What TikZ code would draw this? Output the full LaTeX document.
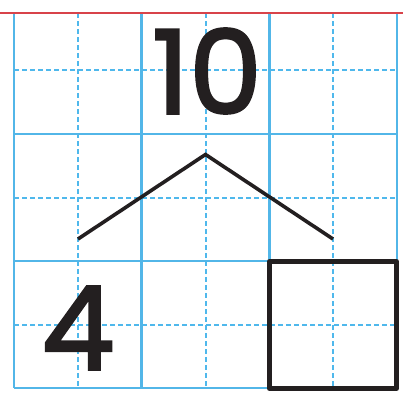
\documentclass[tikz,border=0pt]{standalone}
\usepackage{fontspec}
\setmainfont{Poppins}
\newfontfamily\digitfont[FakeBold=2.2]{Poppins}
\definecolor{gridblue}{HTML}{52B6E8}
\definecolor{dashblue}{HTML}{4FB8EC}
\definecolor{redline}{HTML}{D8434A}
\definecolor{ink}{HTML}{231F20}
\tikzset{
  solidgrid/.style={draw=gridblue, line width=2.8pt},
  dashgrid/.style={draw=dashblue, line width=1.1pt, dash pattern=on 5pt off 3pt},
  topline/.style={draw=redline, line width=2.2pt},
  answerbox/.style={draw=ink, line width=5pt, line join=round},
  branch/.style={draw=ink, line width=3.6pt, line join=miter},
  digit/.style={text=ink, inner sep=0pt, font=\digitfont\fontsize{116}{116}\selectfont}
}
\begin{document}
\begin{tikzpicture}[x=1pt, y=-1pt]
\useasboundingbox (0,0) rectangle (403,394);
% dashed guide lines
\foreach \x in {78,206,333} \draw[dashgrid] (\x,13) -- (\x,388);
\foreach \y in {70,198,325} \draw[dashgrid] (14,\y) -- (397,\y);
% solid grid lines
\foreach \x in {14,141.7,269.3,397} \draw[solidgrid] (\x,13) -- (\x,388);
\foreach \y in {134,261,388} \draw[solidgrid] (14,\y) -- (397,\y);
% red line at top
\draw[topline] (0,13) -- (403,13);
% answer box
\node[answerbox, minimum width=127pt, minimum height=127pt, inner sep=0pt] (box) at (333,325) {};
% branch lines
\coordinate (peak) at (205.5,154.5);
\coordinate (leftend) at (78,239);
\coordinate (rightend) at (333,239);
\draw[branch] (leftend) -- (peak) -- (rightend);
% numbers
\node[digit] (ten) at (207,71) {10};
\node[digit] (four) at (78,328) {4};
\end{tikzpicture}
\end{document}
